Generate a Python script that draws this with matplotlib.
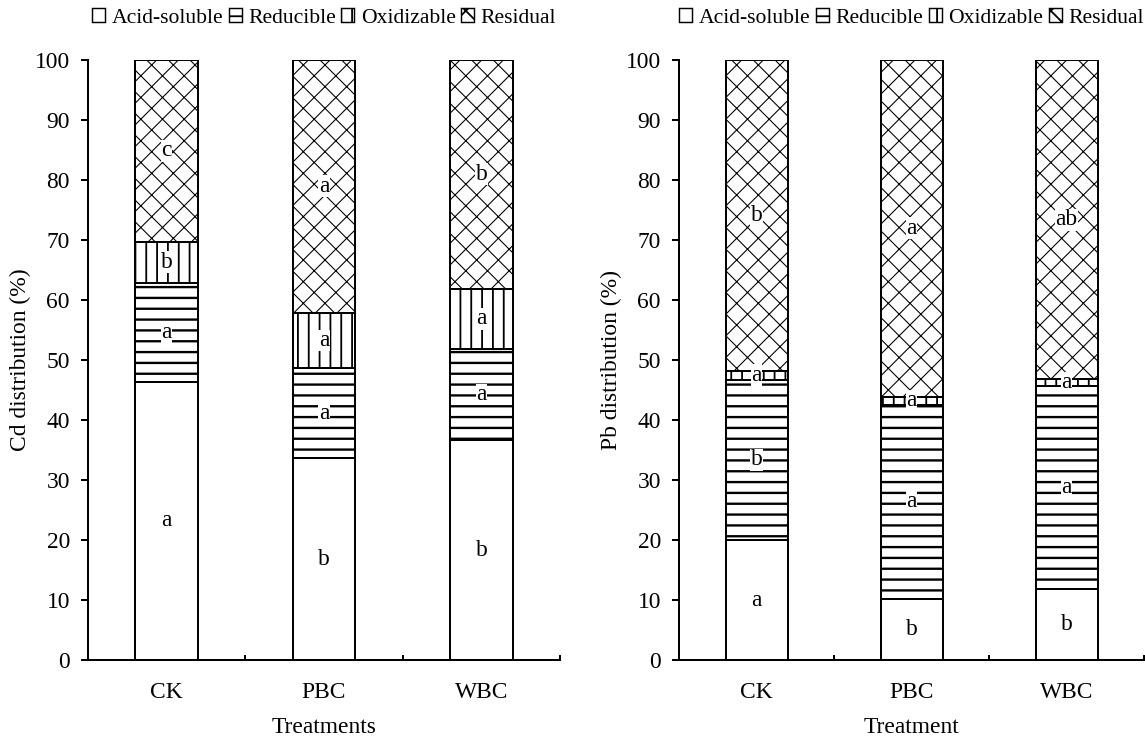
import numpy as np
import matplotlib.pyplot as plt
from matplotlib.patches import Patch

plt.rcParams['font.family'] = ['Liberation Serif', 'DejaVu Serif']
plt.rcParams['font.size'] = 13
plt.rcParams['hatch.color'] = 'black'

# Data
treatments = ['CK', 'PBC', 'WBC']
fractions = ['Acid-soluble', 'Reducible', 'Oxidizable', 'Residual']

cd_acid = [46.4, 33.6, 36.6]
cd_red = [16.5, 15.0, 15.3]
cd_ox = [6.8, 9.3, 10.0]
cd_res = [30.3, 42.1, 38.1]
cd_letters = [['a', 'b', 'b'], ['a', 'a', 'a'], ['b', 'a', 'a'], ['c', 'a', 'b']]

pb_acid = [20.0, 10.2, 11.9]
pb_red = [26.7, 32.3, 33.8]
pb_ox = [1.5, 1.4, 1.1]
pb_res = [51.8, 56.1, 53.2]
pb_letters = [['a', 'b', 'b'], ['b', 'a', 'a'], ['a', 'a', 'a'], ['b', 'a', 'ab']]

hatches = ['', '--', '||', 'xx']
hatch_lw = [1.0, 1.3, 1.0, 0.6]

DPI = 130
fig = plt.figure(figsize=(1145 / DPI, 737 / DPI), dpi=DPI)
ax1 = fig.add_axes([88 / 1145, 77 / 737, 472 / 1145, 600 / 737])
ax2 = fig.add_axes([679 / 1145, 77 / 737, 465 / 1145, 600 / 737])


def draw(ax, parts, letters, ylabel, xlabel):
    x = np.arange(len(treatments)) + 0.5
    bottom = np.zeros(len(treatments))
    for i, vals in enumerate(parts):
        vals = np.array(vals)
        with plt.rc_context({'hatch.linewidth': hatch_lw[i]}):
            ax.bar(x, vals, 0.4, bottom=bottom, color='white', edgecolor='black',
                   linewidth=1.1, hatch=hatches[i])
        for j in range(len(treatments)):
            ax.text(x[j], bottom[j] + vals[j] / 2, letters[i][j], ha='center', va='center',
                    fontsize=13, bbox=dict(facecolor='white', edgecolor='none', pad=0.3))
        bottom = bottom + vals

    ax.set_xlim(0, 3)
    ax.set_ylim(0, 100)
    ax.set_yticks(np.arange(0, 101, 10))
    ax.set_xticks([0, 1, 2, 3])
    ax.set_xticklabels([])
    ax.set_xticks(x, minor=True)
    ax.set_xticklabels(treatments, minor=True)
    ax.tick_params(axis='x', which='major', direction='in', length=3, width=1.1)
    ax.tick_params(axis='x', which='minor', length=0, pad=12)
    ax.tick_params(axis='y', direction='out', length=4, width=1.1, pad=6)
    for s in ['top', 'right']:
        ax.spines[s].set_visible(False)
    for s in ['left', 'bottom']:
        ax.spines[s].set_linewidth(1.1)
    ax.set_ylabel(ylabel, labelpad=2)
    ax.set_xlabel(xlabel, labelpad=8)

    handles = [Patch(facecolor='white', edgecolor='black', hatch=hatches[i], linewidth=0.8,
                     label=fractions[i]) for i in range(4)]
    ax.legend(handles=handles, loc='center', bbox_to_anchor=(0.5, 1.07), ncol=4,
              frameon=False, handlelength=0.6, handleheight=0.6, handletextpad=0.3,
              columnspacing=0.25, borderaxespad=0, fontsize=12)


draw(ax1, [cd_acid, cd_red, cd_ox, cd_res], cd_letters, 'Cd distribution (%)', 'Treatments')
draw(ax2, [pb_acid, pb_red, pb_ox, pb_res], pb_letters, 'Pb distribution (%)', 'Treatment')

fig.savefig('out.png', dpi=DPI)
